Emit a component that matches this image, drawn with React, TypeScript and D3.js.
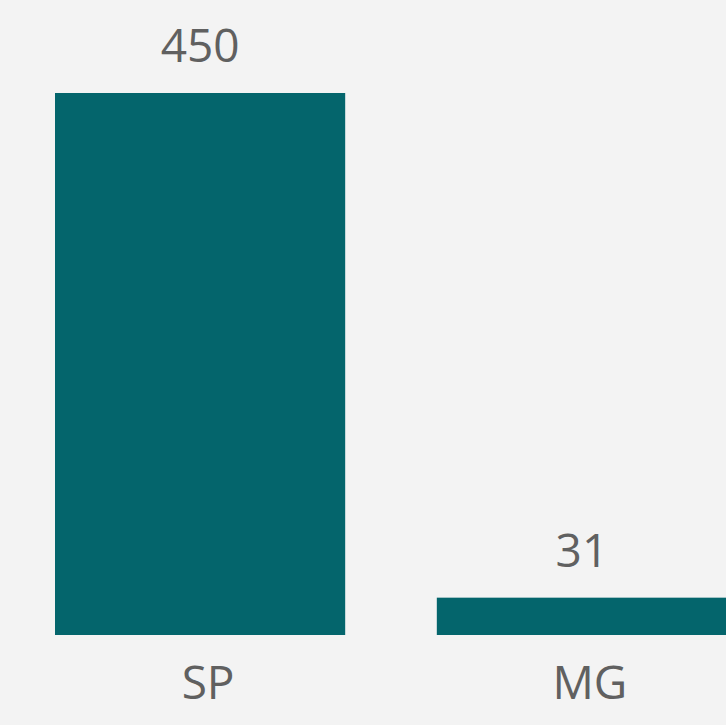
import React, { useEffect, useRef } from 'react';
import * as d3 from 'd3';

// Datos
const categories = ['SP', 'MG'];
const values = [450, 31];

const BarChart = () => {
  const chartRef = useRef<HTMLDivElement>(null);

  useEffect(() => {
    document.body.style.margin = '0';
    const width = 726;
    const height = 725;
    const data = categories.map((c, i) => ({ cat: c, value: values[i] }));

    d3.select(chartRef.current).selectAll('*').remove();

    const svg = d3
      .select(chartRef.current)
      .append('svg')
      .attr('width', width)
      .attr('height', height)
      .style('display', 'block')
      .style('font-family', "'Segoe UI', 'Open Sans', sans-serif");

    // fondo
    svg.append('rect').attr('width', width).attr('height', height).attr('fill', '#f3f3f3');

    const x = d3.scaleBand().domain(categories).range([55, 727]).paddingInner(0.24).paddingOuter(0);
    const y = d3.scaleLinear().domain([0, 450]).range([635, 93]);

    // barras
    svg
      .selectAll('.bar')
      .data(data)
      .enter()
      .append('rect')
      .attr('class', 'bar')
      .attr('x', d => x(d.cat)!)
      .attr('y', d => y(d.value))
      .attr('width', x.bandwidth())
      .attr('height', d => y(0) - y(d.value))
      .attr('fill', '#04656c');

    // etiquetas de valor
    svg
      .selectAll('.label')
      .data(data)
      .enter()
      .append('text')
      .attr('class', 'label')
      .attr('x', d => x(d.cat)! + x.bandwidth() / 2)
      .attr('y', d => y(d.value) - 31)
      .attr('text-anchor', 'middle')
      .style('font-size', '46px')
      .style('fill', '#606060')
      .text(d => d3.format('d')(d.value));

    // etiquetas de categoria
    svg
      .selectAll('.cat')
      .data(data)
      .enter()
      .append('text')
      .attr('class', 'cat')
      .attr('x', d => x(d.cat)! + x.bandwidth() / 2 + 8)
      .attr('y', y(0) + 64)
      .attr('text-anchor', 'middle')
      .style('font-size', '46px')
      .style('fill', '#606060')
      .text(d => d.cat);
  }, []);

  return <div ref={chartRef}></div>;
};

export default function App() {
  return <BarChart />;
}
